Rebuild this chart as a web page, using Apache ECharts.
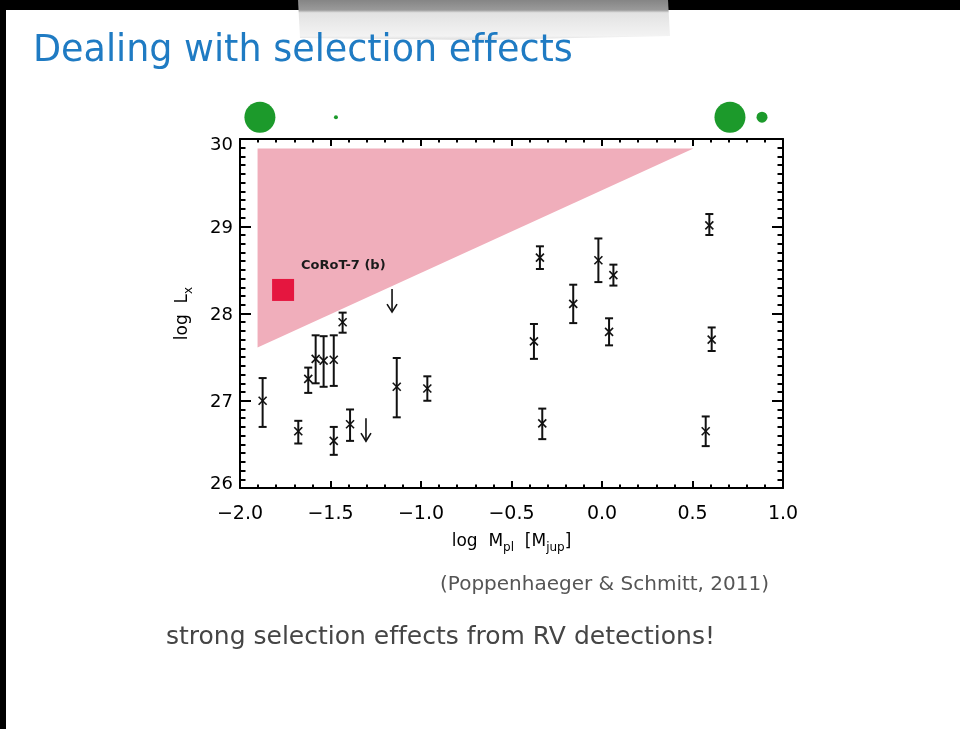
<!DOCTYPE html>
<html>
<head>
<meta charset="utf-8">
<script src="https://cdn.jsdelivr.net/npm/echarts@6/dist/echarts.min.js"></script>
<style>
  html, body { margin: 0; padding: 0; background: #fff; }
  #chart { width: 960px; height: 729px; }
</style>
</head>
<body>
<div id="chart"></div>
<script>
// Host-star X-ray luminosity versus planet mass (log scale on both axes)
const massLog = [-1.875, -1.678, -1.623, -1.582, -1.538, -1.482, -1.433, -1.482, -1.392,
                 -1.134, -0.965, -0.343, -0.020, 0.063, -0.159, -0.376, 0.039, 0.593,
                 0.606, -0.330, 0.573];
const lxLog   = [27.00, 26.65, 27.25, 27.48, 27.46, 27.47, 27.90, 26.54, 26.73,
                 27.16, 27.14, 28.64, 28.61, 28.44, 28.11, 27.68, 27.79, 29.01,
                 27.70, 26.74, 26.65];
const errUp   = [0.26, 0.12, 0.13, 0.27, 0.28, 0.28, 0.11, 0.16, 0.17,
                 0.33, 0.14, 0.13, 0.25, 0.12, 0.22, 0.20, 0.155, 0.13,
                 0.14, 0.17, 0.17];
const errDown = [0.30, 0.14, 0.16, 0.28, 0.30, 0.30, 0.12, 0.16, 0.19,
                 0.35, 0.14, 0.13, 0.25, 0.12, 0.22, 0.20, 0.155, 0.11,
                 0.13, 0.18, 0.17];

// upper limits in L_x
const limitMass = [-1.160, -1.304];
const limitLx   = [28.28, 26.80];

// transiting planet highlighted
const corotMass = [-1.762];
const corotLx   = [28.27];
const corotName = ['CoRoT-7 (b)'];

// region not probed by RV detections
const biasMass = [-1.903, 0.505, -1.903];
const biasLx   = [29.89, 29.89, 27.61];

// planet-size icons above the frame
const iconMass = [-1.890, -1.470, 0.707, 0.884];
const iconLx   = [30.25, 30.25, 30.25, 30.25];

// axis tick labels
const xTickLabels = ['\u22122.0', '\u22121.5', '\u22121.0', '\u22120.5', '0.0', '0.5', '1.0'];
const yTickLabels = ['26', '27', '28', '29', '30'];

const X_MIN = -2, X_MAX = 1, X_STEP = 0.5;
const Y_MIN = 26, Y_MAX = 30, Y_STEP = 1;

const iconDiameters = [31, 4, 31, 11];
const tickFont = { fontFamily: 'DejaVu Sans', fontSize: 18, color: '#000' };
const textFont = 'DejaVu Sans';
// zero-width non-joiner keeps "ff" as two separate letters
const NOLIG = '\u200C';

const chart = echarts.init(document.getElementById('chart'), null, { renderer: 'canvas' });

function errRender(params, api) {
  const x = api.value(0), y = api.value(1), up = api.value(2), dn = api.value(3);
  const c = api.coord([x, y]);
  const t = api.coord([x, y + up]);
  const b = api.coord([x, y - dn]);
  const cap = 4, m = 4;
  const st = { stroke: '#111', lineWidth: 2 };
  const sx = { stroke: '#111', lineWidth: 1.6 };
  return {
    type: 'group',
    children: [
      { type: 'line', shape: { x1: c[0], y1: t[1], x2: c[0], y2: b[1] }, style: st },
      { type: 'line', shape: { x1: c[0] - cap, y1: t[1], x2: c[0] + cap, y2: t[1] }, style: st },
      { type: 'line', shape: { x1: c[0] - cap, y1: b[1], x2: c[0] + cap, y2: b[1] }, style: st },
      { type: 'line', shape: { x1: c[0] - m, y1: c[1] - m, x2: c[0] + m, y2: c[1] + m }, style: sx },
      { type: 'line', shape: { x1: c[0] - m, y1: c[1] + m, x2: c[0] + m, y2: c[1] - m }, style: sx }
    ]
  };
}

function limitRender(params, api) {
  const c = api.coord([api.value(0), api.value(1)]);
  const len = 23, hw = 5, hh = 8;
  const st = { stroke: '#111', lineWidth: 1.6 };
  return {
    type: 'group',
    children: [
      { type: 'line', shape: { x1: c[0], y1: c[1], x2: c[0], y2: c[1] + len }, style: st },
      { type: 'polyline', shape: { points: [[c[0] - hw, c[1] + len - hh], [c[0], c[1] + len], [c[0] + hw, c[1] + len - hh]] }, style: { stroke: '#111', lineWidth: 1.6, fill: null } }
    ]
  };
}

function biasRender(params, api) {
  if (params.dataIndex !== 0) return null;
  const pts = biasMass.map((m, i) => api.coord([m, biasLx[i]]));
  return { type: 'polygon', shape: { points: pts }, style: { fill: '#f0aebb', stroke: null } };
}

function xAxisDef(pos, showLabel) {
  return {
    type: 'value', position: pos, min: X_MIN, max: X_MAX, interval: X_STEP,
    axisLine: { show: true, onZero: false, lineStyle: { color: '#000', width: 2 } },
    axisTick: { show: true, inside: true, length: 7, lineStyle: { color: '#000', width: 2 } },
    minorTick: { show: true, splitNumber: 5, length: 3.5, lineStyle: { color: '#000', width: 2 } },
    splitLine: { show: false },
    axisLabel: {
      show: showLabel, margin: 17, ...tickFont, fontSize: 19,
      formatter: v => xTickLabels[Math.round((v - X_MIN) / X_STEP)]
    }
  };
}

function yAxisDef(pos, showLabel) {
  return {
    type: 'value', position: pos, min: Y_MIN, max: Y_MAX, interval: Y_STEP,
    axisLine: { show: true, onZero: false, lineStyle: { color: '#000', width: 2 } },
    axisTick: { show: true, inside: true, length: 11, lineStyle: { color: '#000', width: 2 } },
    minorTick: { show: true, splitNumber: 10, length: 5.5, lineStyle: { color: '#000', width: 2 } },
    splitLine: { show: false },
    axisLabel: {
      show: showLabel, margin: 7, ...tickFont,
      formatter: v => {
        const i = Math.round((v - Y_MIN) / Y_STEP);
        const key = i === yTickLabels.length - 1 ? 'hi' : (i === 0 ? 'lo' : 'mid');
        return '{' + key + '|' + yTickLabels[i] + '}';
      },
      rich: {
        hi: { ...tickFont, padding: [12, 0, 0, 0] },
        mid: { ...tickFont, padding: [4, 0, 0, 0] },
        lo: { ...tickFont, padding: [0, 0, 8, 0] }
      }
    }
  };
}

const nameRich = {
  m: { fontFamily: textFont, fontSize: 17, color: '#000' },
  s: { fontFamily: textFont, fontSize: 12, color: '#000', padding: [12, 0, 0, 0] }
};

const xBottom = xAxisDef('bottom', true);
xBottom.name = '{m|log  M}{s|pl}{m|  [M}{s|jup}{m|]}';
xBottom.nameLocation = 'middle';
xBottom.nameGap = 42;
xBottom.nameTextStyle = { rich: nameRich };

const yLeft = yAxisDef('left', true);
yLeft.name = '{m|log  L}{s|x}';
yLeft.nameLocation = 'middle';
yLeft.nameRotate = 90;
yLeft.nameGap = 45;
yLeft.nameTextStyle = { rich: nameRich };

const option = {
  backgroundColor: '#fff',
  animation: false,
  title: [
    {
      text: 'Dealing with selection ef' + NOLIG + 'fects', left: 33, top: 33, padding: 0,
      textStyle: { fontFamily: textFont, fontWeight: 'normal', fontSize: 36.5, color: '#1f7bc3' }
    },
    {
      text: '(Poppenhaeger & Schmitt, 2011)', left: 440, top: 575, padding: 0,
      textStyle: { fontFamily: textFont, fontWeight: 'normal', fontSize: 20, color: '#555' }
    },
    {
      text: 'strong selection ef' + NOLIG + 'fects from RV detections!', left: 166, top: 625, padding: 0,
      textStyle: { fontFamily: textFont, fontWeight: 'normal', fontSize: 25, color: '#454545' }
    }
  ],
  graphic: [
    { type: 'rect', left: 0, top: 0, shape: { width: 960, height: 10 }, style: { fill: '#000' }, z: 0 },
    { type: 'rect', left: 0, top: 0, shape: { width: 6, height: 729 }, style: { fill: '#000' }, z: 0 },
    {
      type: 'polygon', z: 1,
      shape: { points: [[298, 0], [668, 0], [670, 36], [480, 40], [300, 38]] },
      style: {
        fill: new echarts.graphic.LinearGradient(0, 0, 0, 1, [
          { offset: 0, color: '#858585' },
          { offset: 0.25, color: '#9a9a9a' },
          { offset: 0.32, color: '#e2e2e2' },
          { offset: 0.9, color: '#f3f3f3' },
          { offset: 1, color: '#dcdcdc' }
        ])
      }
    }
  ],
  grid: { left: 240, top: 139, width: 543, height: 349, containLabel: false },
  xAxis: [xBottom, xAxisDef('top', false)],
  yAxis: [yLeft, yAxisDef('right', false)],
  series: [
    {
      type: 'custom', name: 'bias', renderItem: biasRender, z: 1,
      data: biasMass.map((m, i) => [m, biasLx[i]]), silent: true
    },
    {
      type: 'custom', name: 'detections', renderItem: errRender, z: 3,
      data: massLog.map((m, i) => [m, lxLog[i], errUp[i], errDown[i]])
    },
    {
      type: 'custom', name: 'upper limits', renderItem: limitRender, z: 3,
      data: limitMass.map((m, i) => [m, limitLx[i]])
    },
    {
      type: 'scatter', name: 'CoRoT-7', z: 4,
      symbol: 'rect', symbolSize: 22,
      itemStyle: { color: '#e5163f', opacity: 1 },
      data: corotMass.map((m, i) => ({ value: [m, corotLx[i]], name: corotName[i] })),
      label: {
        show: true, position: 'right', distance: 5, offset: [2, -24],
        formatter: p => p.name,
        fontFamily: 'DejaVu Sans', fontWeight: 'bold', fontSize: 13, color: '#1a1a1a'
      }
    },
    {
      type: 'scatter', name: 'icons', z: 4, clip: false, silent: true,
      symbol: 'circle',
      symbolSize: (v, p) => iconDiameters[p.dataIndex],
      itemStyle: { color: '#1c9a2b', opacity: 1 },
      data: iconMass.map((m, i) => [m, iconLx[i]])
    }
  ]
};

chart.setOption(option);
</script>
</body>
</html>
